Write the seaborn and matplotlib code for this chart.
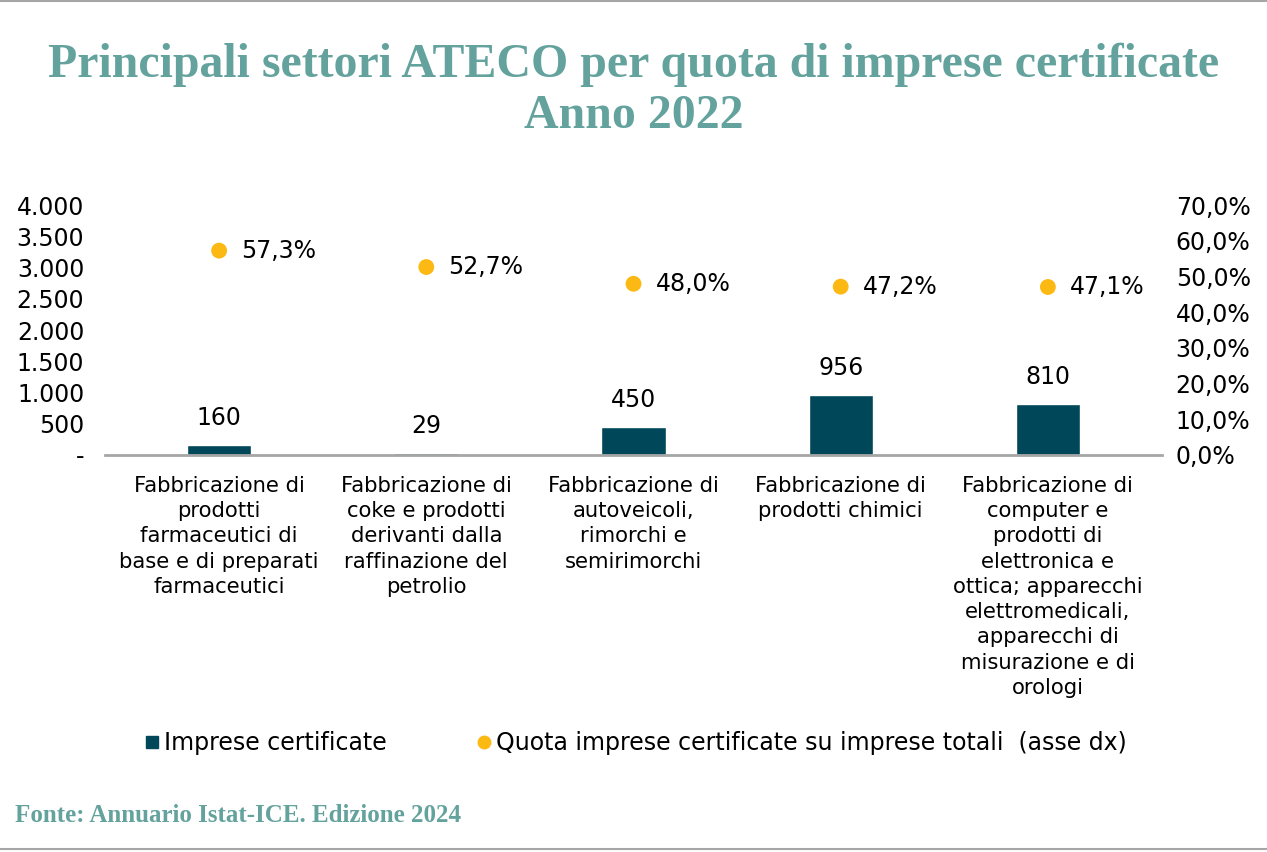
import numpy as np
import pandas as pd
import matplotlib
matplotlib.use('Agg')
import matplotlib.pyplot as plt
from matplotlib.lines import Line2D
import seaborn as sns

sns.set_style('white')
plt.rcParams['font.family'] = ['DejaVu Sans']
plt.rcParams['text.color'] = 'black'
plt.rcParams['xtick.color'] = 'black'
plt.rcParams['ytick.color'] = 'black'

# data
categories = [
    'Fabbricazione di\nprodotti\nfarmaceutici di\nbase e di preparati\nfarmaceutici',
    'Fabbricazione di\ncoke e prodotti\nderivanti dalla\nraffinazione del\npetrolio',
    'Fabbricazione di\nautoveicoli,\nrimorchi e\nsemirimorchi',
    'Fabbricazione di\nprodotti chimici',
    'Fabbricazione di\ncomputer e\nprodotti di\nelettronica e\nottica; apparecchi\nelettromedicali,\napparecchi di\nmisurazione e di\norologi',
]
imprese = [160, 29, 450, 956, 810]
quota = [57.3, 52.7, 48.0, 47.2, 47.1]
left_ticks = [0, 500, 1000, 1500, 2000, 2500, 3000, 3500, 4000]
right_ticks = [0, 10, 20, 30, 40, 50, 60, 70]

BAR = '#00475a'
DOT = '#fdb913'
TEAL = '#64a29d'
GRAY = '#a6a6a6'

df = pd.DataFrame({'settore': categories, 'imprese': imprese, 'quota': quota,
                   'pos': np.arange(len(categories))})

fig = plt.figure(figsize=(12.67, 8.52), dpi=100)
ax = fig.add_axes([0.083, 0.466, 0.834, 0.293])

sns.barplot(data=df, x='settore', y='imprese', color=BAR, width=0.31,
            saturation=1, ax=ax)
ax.set_xlim(-0.55, 4.55)
ax.set_ylim(0, 4000)
ax.set_yticks(left_ticks)
ax.set_yticklabels(['-' if v == 0 else f'{v:,}'.replace(',', '.') for v in left_ticks])
ax.set_xlabel('')
ax.set_ylabel('')
ax.tick_params(axis='y', length=0, labelsize=17, pad=15)
ax.tick_params(axis='x', length=0, labelsize=15.2, pad=15)
for lab in ax.get_xticklabels():
    lab.set_verticalalignment('top')
    lab.set_horizontalalignment('center')
    lab.set_linespacing(1.33)
for s in ['top', 'left', 'right']:
    ax.spines[s].set_visible(False)
ax.spines['bottom'].set_color(GRAY)
ax.spines['bottom'].set_linewidth(2)

for i, v in enumerate(imprese):
    ax.annotate(f'{v}', (i, v), xytext=(0, 11), textcoords='offset points',
                ha='center', va='bottom', fontsize=17, color='black')

ax2 = ax.twinx()
sns.scatterplot(data=df, x='pos', y='quota', color=DOT, s=130, edgecolor='none',
                ax=ax2, legend=False, zorder=3)
ax2.set_ylim(0, 70)
ax2.set_xlim(-0.55, 4.55)
ax2.set_yticks(right_ticks)
ax2.set_yticklabels([f'{v:.1f}%'.replace('.', ',') for v in right_ticks])
ax2.set_ylabel('')
ax2.tick_params(axis='y', length=0, labelsize=17, pad=10)
for s in ['top', 'left', 'right', 'bottom']:
    ax2.spines[s].set_visible(False)
for i, q in enumerate(quota):
    ax2.annotate(f'{q:.1f}%'.replace('.', ','), (i, q), xytext=(16, 0),
                 textcoords='offset points', ha='left', va='center',
                 fontsize=17, color='black')

handles = [
    Line2D([], [], marker='s', linestyle='', color=BAR, markersize=9),
    Line2D([], [], marker='o', linestyle='', color=DOT, markersize=9),
]
fig.legend(handles, ['Imprese certificate',
                     'Quota imprese certificate su imprese totali  (asse dx)'],
           loc='center', bbox_to_anchor=(0.5, 0.128), ncol=2, frameon=False,
           fontsize=17, handletextpad=0.0, columnspacing=3.6, handlelength=1.0)

fig.text(0.5, 0.924, 'Principali settori ATECO per quota di imprese certificate',
         ha='center', va='center', fontsize=34.5, fontweight='bold',
         color=TEAL, family='Liberation Serif')
fig.text(0.5, 0.864, 'Anno 2022', ha='center', va='center', fontsize=34.5,
         fontweight='bold', color=TEAL, family='Liberation Serif')
fig.text(0.012, 0.043, 'Fonte: Annuario Istat-ICE. Edizione 2024', ha='left',
         va='center', fontsize=18, fontweight='bold', color=TEAL,
         family='Liberation Serif')

fig.add_artist(Line2D([0, 1], [0.999, 0.999], color=GRAY, lw=1.5))
fig.add_artist(Line2D([0, 1], [0.003, 0.003], color=GRAY, lw=1.5))

fig.savefig('out.png', dpi=100)
